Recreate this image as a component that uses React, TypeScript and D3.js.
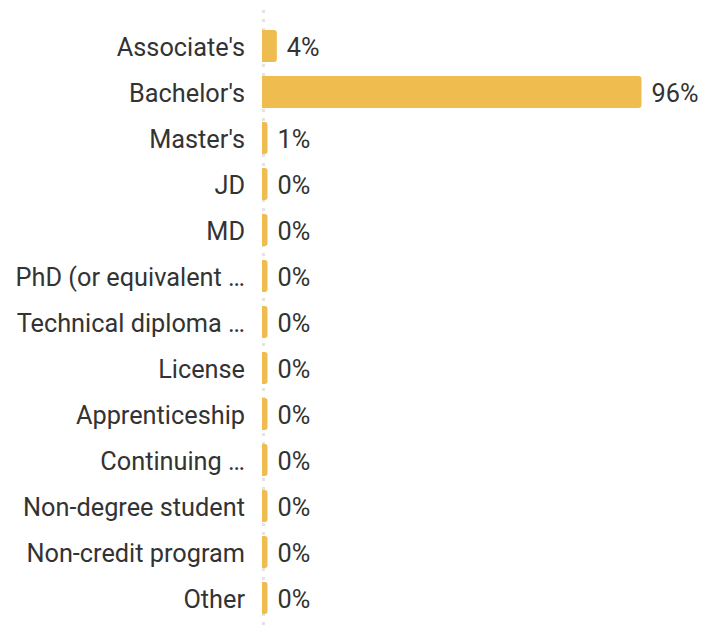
import React from "react";
import * as d3 from "d3";

const categories: string[] = [
  "Associate's",
  "Bachelor's",
  "Master's",
  "JD",
  "MD",
  "PhD (or equivalent …",
  "Technical diploma …",
  "License",
  "Apprenticeship",
  "Continuing …",
  "Non-degree student",
  "Non-credit program",
  "Other",
];
const values: number[] = [3.5, 95.6, 0.9, 0, 0, 0, 0, 0, 0, 0, 0, 0, 0];
const valueLabels: string[] = ["4%", "96%", "1%", "0%", "0%", "0%", "0%", "0%", "0%", "0%", "0%", "0%", "0%"];

const W = 719;
const H = 631;
const X0 = 263;
const BAR_COLOR = "#EFBD4F";
const FONT = "Roboto, 'Noto Sans', sans-serif";

export default function App() {
  const x = d3.scaleLinear().domain([0, 95.6]).range([X0, 641.5]);
  const y = d3
    .scaleBand<string>()
    .domain(categories)
    .range([23, 621])
    .paddingInner(0.3)
    .paddingOuter(0.15);
  const bw = y.bandwidth();
  const minW = 4.5;
  const r = 3;

  const barPath = (x0: number, y0: number, w: number, h: number) => {
    const rr = Math.min(r, w / 2);
    return `M${x0},${y0}H${x0 + w - rr}Q${x0 + w},${y0} ${x0 + w},${y0 + rr}V${y0 + h - rr}Q${x0 + w},${y0 + h} ${x0 + w - rr},${y0 + h}H${x0}Z`;
  };

  return (
    <svg
      width={W}
      height={H}
      style={{ position: "fixed", left: 0, top: 0, background: "#fff" }}
      fontFamily={FONT}
    >
      <line
        x1={X0 + 0.5}
        x2={X0 + 0.5}
        y1={10}
        y2={H}
        stroke="#e3e3e3"
        strokeWidth={3}
        strokeDasharray="3,6"
      />
      {categories.map((c, i) => {
        const yy = y(c)!;
        const w = Math.max(minW, x(values[i]) - X0);
        const cy = yy + bw / 2 + 1.5;
        return (
          <g key={c}>
            <path d={barPath(X0 - 1, yy, w + 1, bw)} fill={BAR_COLOR} />
            <text
              x={245}
              y={cy}
              textAnchor="end"
              dominantBaseline="central"
              fontSize={25.3}
              fill="#333"
            >
              {c}
            </text>
            <text
              x={X0 + w + 10}
              y={cy}
              dominantBaseline="central"
              fontSize={25.3}
              fill="#333"
            >
              {valueLabels[i]}
            </text>
          </g>
        );
      })}
    </svg>
  );
}
